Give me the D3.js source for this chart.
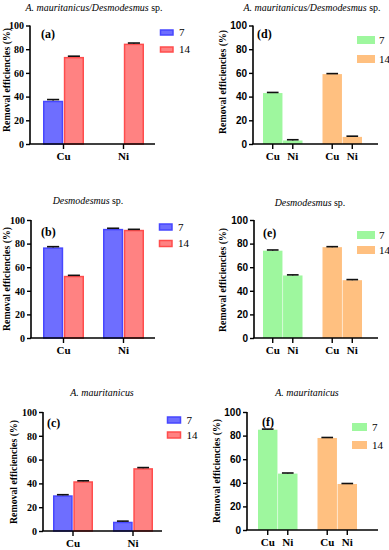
<!DOCTYPE html>
<html><head><meta charset="utf-8">
<script src="https://cdn.jsdelivr.net/npm/d3@7/dist/d3.min.js"></script>
<style>
html,body{margin:0;padding:0;background:#fff;}
svg{display:block;}
</style></head>
<body>
<svg id="chart" width="389" height="550"></svg>
<script>
// ---------- data ----------
const metals = ["Cu", "Ni"];
const days = ["7", "14"];
const yTicks = [0, 20, 40, 60, 80, 100];
const yLabel = "Removal efficiencies (%)";

// (a) A. mauritanicus/Desmodesmus sp. — by metal, series = day
const a_day7 = [36.5, null];
const a_day14 = [73.5, 84.7];
const a_err7 = [1.0, 0];
const a_err14 = [0.6, 0.5];
// (b) Desmodesmus sp.
const b_day7 = [76.8, 92.5];
const b_day14 = [52.7, 91.7];
const b_err7 = [0.6, 0.5];
const b_err14 = [0.4, 0.4];
// (c) A. mauritanicus
const c_day7 = [30, 7.8];
const c_day14 = [41.8, 52.8];
const c_err7 = [0.5, 0.5];
const c_err14 = [0.4, 0.5];
// (d) A. mauritanicus/Desmodesmus sp. — by day, bars = metal
const d_day7 = [43, 3];
const d_day14 = [59, 6];
const d_err7 = [0.5, 0.6];
const d_err14 = [0.4, 0.6];
// (e) Desmodesmus sp.
const e_day7 = [74, 53];
const e_day14 = [77, 49];
const e_err7 = [0.6, 0.5];
const e_err14 = [0.4, 0.5];
// (f) A. mauritanicus
const f_day7 = [85, 47.8];
const f_day14 = [78, 39];
const f_err7 = [0.5, 0.5];
const f_err14 = [0.4, 0.4];

const colA = {"7": {fill: "#6e6eff", stroke: "#4747ff"}, "14": {fill: "#ff8282", stroke: "#ff4d4d"}};
const colB = {"7": {fill: "#9ef79e", stroke: "#ffffff"}, "14": {fill: "#ffc080", stroke: "#ffffff"}};

const SERIF = "'Liberation Serif','Times New Roman',serif";
const SANS = "'Liberation Sans',Arial,sans-serif";

const svg = d3.select("#chart");

// measure a title size so the long title spans ~138px
const probe = svg.append("text").attr("font-family", SERIF).attr("font-size", 10);
probe.append("tspan").attr("font-style", "italic").text("A. mauritanicus/Desmodesmus");
probe.append("tspan").text(" sp.");
const TITLE_SIZE = 10 * 138 / probe.node().getBBox().width;
probe.remove();
const probe2 = svg.append("text").attr("font-family", SERIF).attr("font-weight", "bold").attr("font-size", 10).text(yLabel);
const YLAB_SIZE = 10 * 104 / probe2.node().getBBox().width;
probe2.remove();

function panel(cfg) {
  const g = svg.append("g");
  const y = d3.scaleLinear().domain([0, 100]).range([cfg.y0, cfg.y100]);
  const outer = d3.scaleBand().domain(cfg.outerDomain).range(cfg.bandRange).paddingInner(cfg.padIn);
  const inner = d3.scaleBand().domain(cfg.innerDomain).range([0, outer.bandwidth()]).paddingInner(0.03);

  const data = [];
  cfg.outerDomain.forEach((o, oi) => {
    cfg.innerDomain.forEach((s, si) => {
      const v = cfg.value(oi, si);
      const e = cfg.err(oi, si);
      data.push({o, s, v, e, day: cfg.byOuter ? o : s});
    });
  });
  const bars = data.filter(d => d.v != null);
  const sw = cfg.strokeW;
  g.selectAll("rect.bar").data(bars).join("rect")
    .attr("class", "bar")
    .attr("x", d => outer(d.o) + inner(d.s) + sw / 2)
    .attr("width", inner.bandwidth() - sw)
    .attr("y", d => y(d.v) + sw / 2)
    .attr("height", d => Math.max(0, y(0) - y(d.v) - sw / 2))
    .attr("fill", d => cfg.colors[d.day].fill)
    .attr("stroke", d => cfg.colors[d.day].stroke)
    .attr("stroke-width", sw);

  const capW = inner.bandwidth() * 0.6;
  const eg = g.selectAll("g.err").data(bars).join("g").attr("class", "err");
  eg.append("line")
    .attr("x1", d => outer(d.o) + inner(d.s) + inner.bandwidth() / 2 - capW / 2)
    .attr("x2", d => outer(d.o) + inner(d.s) + inner.bandwidth() / 2 + capW / 2)
    .attr("y1", d => y(d.v + d.e)).attr("y2", d => y(d.v + d.e))
    .attr("stroke", "#111").attr("stroke-width", 1.6);
  eg.append("line")
    .attr("x1", d => outer(d.o) + inner(d.s) + inner.bandwidth() / 2)
    .attr("x2", d => outer(d.o) + inner(d.s) + inner.bandwidth() / 2)
    .attr("y1", d => y(d.v + d.e)).attr("y2", d => y(d.v))
    .attr("stroke", "#111").attr("stroke-width", 1.2);

  const ya = g.append("g").attr("transform", `translate(${cfg.axisX},0)`)
    .call(d3.axisLeft(y).tickValues(yTicks).tickSize(4).tickPadding(2).tickSizeOuter(0));
  ya.select(".domain").attr("stroke", "#000").attr("stroke-width", 1.6)
    .attr("d", `M0,${cfg.y0}V${cfg.y100}`);
  ya.selectAll(".tick line").attr("stroke", "#000").attr("stroke-width", 1.4);
  ya.selectAll(".tick text").attr("font-family", cfg.yFont).attr("font-weight", "bold")
    .attr("font-size", 10).attr("fill", "#000");

  g.append("line").attr("x1", cfg.axisX - 0.8).attr("x2", cfg.axisEnd)
    .attr("y1", cfg.y0).attr("y2", cfg.y0).attr("stroke", "#000").attr("stroke-width", 1.6);
  let ticks;
  if (cfg.byOuter) {
    ticks = [];
    cfg.outerDomain.forEach(o => cfg.innerDomain.forEach(s => ticks.push({x: outer(o) + inner(s) + inner.bandwidth() / 2, t: s})));
  } else {
    ticks = cfg.outerDomain.map(o => ({x: outer(o) + outer.bandwidth() / 2, t: o}));
  }
  const xt = g.selectAll("g.xt").data(ticks).join("g").attr("class", "xt")
    .attr("transform", d => `translate(${d.x},${cfg.y0})`);
  xt.append("line").attr("y1", 0).attr("y2", 5).attr("stroke", "#000").attr("stroke-width", 1.4);
  xt.append("text").attr("y", 16).attr("text-anchor", "middle")
    .attr("font-family", SERIF).attr("font-weight", "bold").attr("font-size", 11)
    .text(d => d.t);

  g.append("text")
    .attr("transform", `translate(${cfg.ylabX},${cfg.ylabY}) rotate(-90)`)
    .attr("text-anchor", "middle").attr("font-family", SERIF).attr("font-weight", "bold")
    .attr("font-size", YLAB_SIZE).text(yLabel);

  const tt = g.append("text").attr("x", cfg.titleX).attr("y", cfg.titleY).attr("text-anchor", "middle")
    .attr("font-family", SERIF).attr("font-size", TITLE_SIZE);
  tt.append("tspan").attr("font-style", "italic").text(cfg.titleIt);
  if (cfg.titleRest) tt.append("tspan").text(cfg.titleRest);

  g.append("text").attr("x", cfg.labX).attr("y", cfg.labY).attr("font-family", SERIF)
    .attr("font-weight", "bold").attr("font-size", 12).text(cfg.label);

  days.forEach((dname, i) => {
    const ly = cfg.legY + i * cfg.legDy;
    g.append("rect").attr("x", cfg.legX).attr("y", ly).attr("width", cfg.legW).attr("height", cfg.legH)
      .attr("fill", cfg.colors[dname].fill)
      .attr("stroke", cfg.byOuter ? "none" : cfg.colors[dname].stroke)
      .attr("stroke-width", 1.5);
    g.append("text").attr("x", cfg.legX + cfg.legW + cfg.legGap).attr("y", ly + cfg.legH / 2 + 3.8)
      .attr("font-family", SERIF).attr("font-size", 11).text(dname);
  });
}

// (a)
panel({axisX: 30, y0: 144, y100: 25.5, axisEnd: 155, outerDomain: metals, innerDomain: days,
  bandRange: [43, 144], padIn: 19 / 60, byOuter: false, colors: colA, strokeW: 1.5,
  value: (o, s) => (s === 0 ? a_day7 : a_day14)[o], err: (o, s) => (s === 0 ? a_err7 : a_err14)[o],
  yFont: SERIF, ylabX: 10, ylabY: 80, titleX: 94, titleY: 11, titleIt: "A. mauritanicus/Desmodesmus", titleRest: " sp.",
  labX: 41, labY: 38, label: "(a)", legX: 160.5, legY: 30, legDy: 17, legW: 12.5, legH: 5, legGap: 6});
// (b)
panel({axisX: 31, y0: 338, y100: 220, axisEnd: 155, outerDomain: metals, innerDomain: days,
  bandRange: [43, 144], padIn: 19 / 60, byOuter: false, colors: colA, strokeW: 1.5,
  value: (o, s) => (s === 0 ? b_day7 : b_day14)[o], err: (o, s) => (s === 0 ? b_err7 : b_err14)[o],
  yFont: SERIF, ylabX: 10, ylabY: 279, titleX: 88, titleY: 204, titleIt: "Desmodesmus", titleRest: " sp.",
  labX: 41, labY: 236, label: "(b)", legX: 159.5, legY: 224, legDy: 16.5, legW: 12.5, legH: 6, legGap: 6});
// (c)
panel({axisX: 43, y0: 531, y100: 412, axisEnd: 162, outerDomain: metals, innerDomain: days,
  bandRange: [53, 153], padIn: 20 / 60, byOuter: false, colors: colA, strokeW: 1.5,
  value: (o, s) => (s === 0 ? c_day7 : c_day14)[o], err: (o, s) => (s === 0 ? c_err7 : c_err14)[o],
  yFont: SERIF, ylabX: 17, ylabY: 472, titleX: 102, titleY: 396, titleIt: "A. mauritanicus", titleRest: "",
  labX: 47, labY: 427, label: "(c)", legX: 167.5, legY: 417, legDy: 15, legW: 13, legH: 6, legGap: 6});
// (d)
panel({axisX: 253, y0: 144, y100: 25.5, axisEnd: 378, outerDomain: days, innerDomain: metals,
  bandRange: [263, 362], padIn: 20 / 59.5, byOuter: true, colors: colB, strokeW: 0,
  value: (o, s) => (o === 0 ? d_day7 : d_day14)[s], err: (o, s) => (o === 0 ? d_err7 : d_err14)[s],
  yFont: SANS, ylabX: 226, ylabY: 82, titleX: 312, titleY: 11, titleIt: "A. mauritanicus/Desmodesmus", titleRest: " sp.",
  labX: 257, labY: 38, label: "(d)", legX: 357, legY: 36, legDy: 19, legW: 18, legH: 8, legGap: 4});
// (e)
panel({axisX: 254, y0: 338, y100: 220, axisEnd: 378, outerDomain: days, innerDomain: metals,
  bandRange: [263, 362], padIn: 20 / 59.5, byOuter: true, colors: colB, strokeW: 0,
  value: (o, s) => (o === 0 ? e_day7 : e_day14)[s], err: (o, s) => (o === 0 ? e_err7 : e_err14)[s],
  yFont: SANS, ylabX: 226, ylabY: 280, titleX: 310, titleY: 206, titleIt: "Desmodesmus", titleRest: " sp.",
  labX: 263, labY: 237, label: "(e)", legX: 357, legY: 231, legDy: 15, legW: 18, legH: 8, legGap: 4});
// (f)
panel({axisX: 247, y0: 530, y100: 412, axisEnd: 378, outerDomain: days, innerDomain: metals,
  bandRange: [258, 357], padIn: 20 / 59.5, byOuter: true, colors: colB, strokeW: 0,
  value: (o, s) => (o === 0 ? f_day7 : f_day14)[s], err: (o, s) => (o === 0 ? f_err7 : f_err14)[s],
  yFont: SANS, ylabX: 220, ylabY: 471, titleX: 307, titleY: 396, titleIt: "A. mauritanicus", titleRest: "",
  labX: 262, labY: 426, label: "(f)", legX: 352, legY: 423, legDy: 18, legW: 15, legH: 8, legGap: 5});
</script>
</body></html>
